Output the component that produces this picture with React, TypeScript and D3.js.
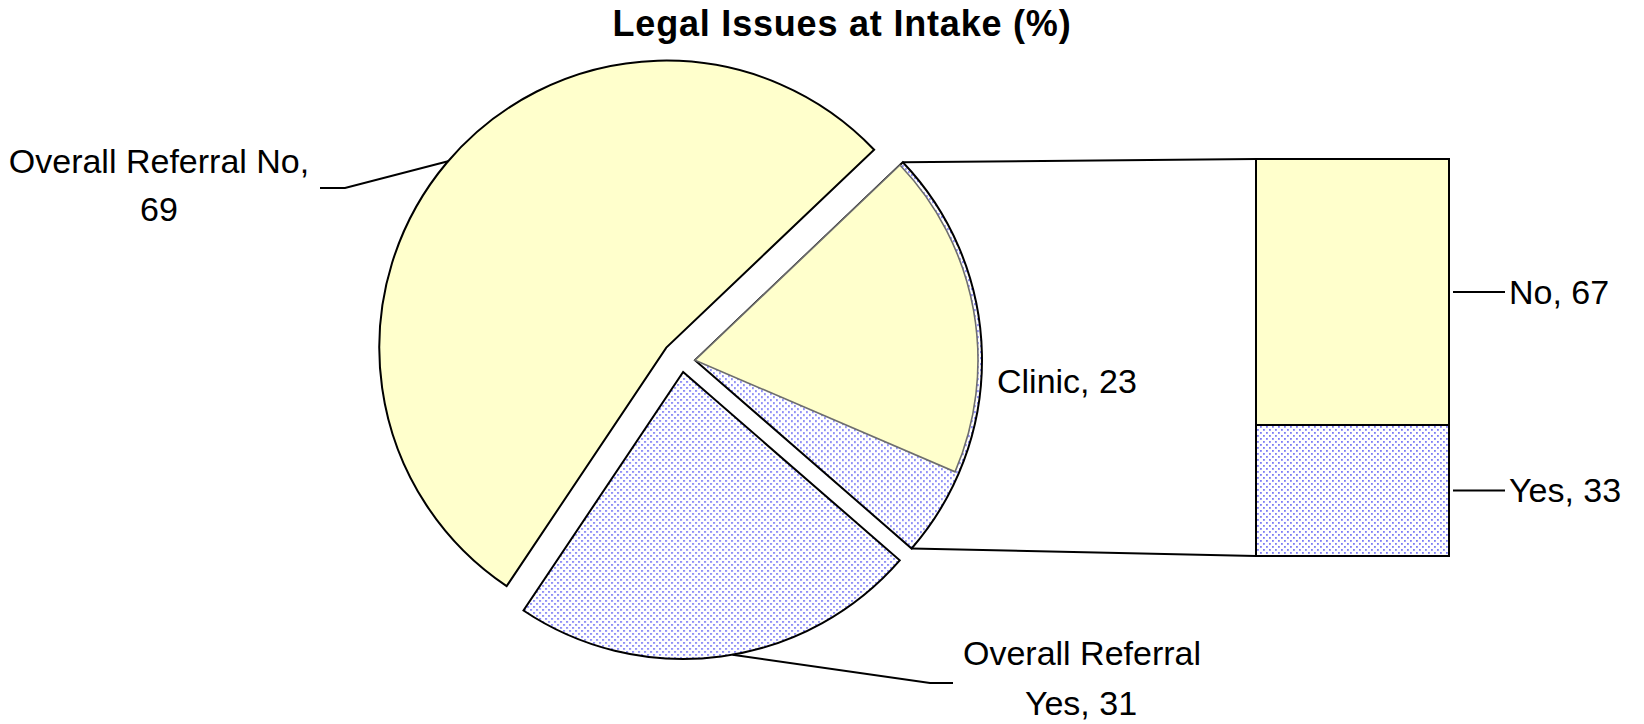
import React, { useEffect, useRef } from "react";
import * as d3 from "d3";

// ── Data ──────────────────────────────────────────────────────────────
const TITLE = "Legal Issues at Intake (%)";

// main pie, in drawing order (counter-clockwise from the clinic wedge)
const sliceNames  = ["Overall Referral No", "Overall Referral Yes", "Clinic"];
const sliceLabels = [["Overall Referral No,", "69"], ["Overall Referral", "Yes, 31"], ["Clinic, 23"]];
const sliceShares = [53.5, 23.0, 23.5];   // share of the circle as drawn

// clinic breakdown shown in the stacked bar
const barNames  = ["No", "Yes"];
const barValues = [67, 33];
const barLabels = ["No, 67", "Yes, 33"];

// part of the clinic wedge painted yellow / dotted
const clinicSplit = [79, 21];

// ── Styles ────────────────────────────────────────────────────────────
const YELLOW = "#ffffcc";
const DOT    = "#7c7cf5";
const FONT   = "'Liberation Sans', Arial, sans-serif";
const LABEL_SIZE = "34px";

const W = 1644, H = 724;

const App = () => {
    const svgRef = useRef(null);

    useEffect(() => {
        const svg = d3.select(svgRef.current);
        svg.selectAll("*").remove();

        // dotted fill
        const defs = svg.append("defs");
        const pat = defs.append("pattern")
            .attr("id", "dots")
            .attr("patternUnits", "userSpaceOnUse")
            .attr("width", 6).attr("height", 6);
        pat.append("rect").attr("width", 6).attr("height", 6).attr("fill", "#fff");
        pat.append("rect").attr("x", 0).attr("y", 0).attr("width", 1.8).attr("height", 1.8).attr("fill", DOT);
        pat.append("rect").attr("x", 3).attr("y", 3).attr("width", 1.8).attr("height", 1.8).attr("fill", DOT);

        const fills = [YELLOW, "url(#dots)", "url(#dots)"];

        // ── Title ─────────────────────────────────────────────────────
        svg.append("text")
            .attr("x", 842).attr("y", 36)
            .attr("text-anchor", "middle")
            .attr("font-family", FONT)
            .attr("font-weight", "bold")
            .attr("font-size", "36px")
            .attr("letter-spacing", "0.8px")
            .attr("fill", "#000")
            .text(TITLE);

        // ── Pie ───────────────────────────────────────────────────────
        const cx = 681.6, cy = 360.5, R = 287;
        const explode = [20, 11.6, 13.4];
        const clinicMid = (88.7 * Math.PI) / 180;   // wedge faces the bar
        const total = d3.sum(sliceShares);
        const clinicSpan = (sliceShares[2] / total) * 2 * Math.PI;
        const endA = clinicMid - clinicSpan / 2;

        const pie = d3.pie<number>().sort(null).value(d => d)
            .startAngle(endA + 2 * Math.PI)
            .endAngle(endA);
        const arcs = pie(sliceShares);
        const arc = d3.arc<any>().innerRadius(0).outerRadius(R);

        const polar = (ox: number, oy: number, a: number, r: number) =>
            [ox + r * Math.sin(a), oy - r * Math.cos(a)];

        const origins = arcs.map((d, i) => {
            const mid = (d.startAngle + d.endAngle) / 2;
            const [ox, oy] = polar(cx, cy, mid, explode[i]);
            return { ox, oy };
        });

        arcs.forEach((d, i) => {
            svg.append("path")
                .attr("transform", `translate(${origins[i].ox},${origins[i].oy})`)
                .attr("d", arc(d))
                .attr("fill", fills[i])
                .attr("stroke", "#000")
                .attr("stroke-width", 2)
                .attr("stroke-linejoin", "miter");
        });

        // yellow overlay inside the clinic wedge
        const clinic = arcs[2];
        const co = origins[2];
        const sub = d3.pie<number>().sort(null).value(d => d)
            .startAngle(clinic.endAngle)
            .endAngle(clinic.startAngle)(clinicSplit);
        svg.append("path")
            .attr("transform", `translate(${co.ox},${co.oy})`)
            .attr("d", d3.arc<any>().innerRadius(0).outerRadius(R - 4)(sub[0]))
            .attr("fill", YELLOW)
            .attr("stroke", "#6e6e6e")
            .attr("stroke-width", 1.6);

        // ── Stacked bar ───────────────────────────────────────────────
        const barX = 1256, barW = 193;
        const y = d3.scaleLinear().domain([0, d3.sum(barValues)]).range([556, 159]);
        const row: any = {};
        barNames.forEach((n, i) => { row[n] = barValues[i]; });
        const stacked = d3.stack().keys(["Yes", "No"])([row]);
        const barFill: any = { No: YELLOW, Yes: "url(#dots)" };

        stacked.forEach(s => {
            const [y0, y1] = s[0];
            svg.append("rect")
                .attr("x", barX).attr("y", y(y1))
                .attr("width", barW).attr("height", y(y0) - y(y1))
                .attr("fill", barFill[s.key])
                .attr("stroke", "#000")
                .attr("stroke-width", 2);

            const mid = (y(y0) + y(y1)) / 2;
            const idx = barNames.indexOf(s.key);
            svg.append("line")
                .attr("x1", barX + barW + 4).attr("x2", barX + barW + 56)
                .attr("y1", mid).attr("y2", mid)
                .attr("stroke", "#000").attr("stroke-width", 2);
            svg.append("text")
                .attr("x", barX + barW + 60).attr("y", mid + 12)
                .attr("font-family", FONT).attr("font-size", LABEL_SIZE)
                .attr("fill", "#000")
                .text(barLabels[idx]);
        });

        // connectors from the clinic wedge to the bar
        const [tx, ty] = polar(co.ox, co.oy, clinic.endAngle, R);
        const [bx, by] = polar(co.ox, co.oy, clinic.startAngle, R);
        [[tx, ty, y(d3.sum(barValues))], [bx, by, y(0)]].forEach(([px, py, yy]) => {
            svg.append("line")
                .attr("x1", px).attr("y1", py)
                .attr("x2", barX).attr("y2", yy)
                .attr("stroke", "#000").attr("stroke-width", 2);
        });

        // ── Pie labels ────────────────────────────────────────────────
        const lbl = (x: number, yy: number, t: string, anchor = "middle") =>
            svg.append("text")
                .attr("x", x).attr("y", yy)
                .attr("text-anchor", anchor)
                .attr("font-family", FONT).attr("font-size", LABEL_SIZE)
                .attr("fill", "#000")
                .text(t);

        // Overall Referral No
        const o0 = origins[0];
        const [n0x, n0y] = polar(o0.ox, o0.oy, (310.5 * Math.PI) / 180, R);
        svg.append("polyline")
            .attr("points", `${n0x},${n0y} 345,188 320,188`)
            .attr("fill", "none").attr("stroke", "#000").attr("stroke-width", 2);
        lbl(159, 173, sliceLabels[0][0]);
        lbl(159, 221, sliceLabels[0][1]);

        // Overall Referral Yes
        const o1 = origins[1];
        const [n1x, n1y] = polar(o1.ox, o1.oy, (170.1 * Math.PI) / 180, R);
        svg.append("polyline")
            .attr("points", `${n1x},${n1y} 930,683 953,683`)
            .attr("fill", "none").attr("stroke", "#000").attr("stroke-width", 2);
        lbl(1082, 665, sliceLabels[1][0]);
        lbl(1081, 715, sliceLabels[1][1]);

        // Clinic
        lbl(997, 393, sliceLabels[2][0], "start");
    }, []);

    return (
        <svg
            ref={svgRef}
            width={W}
            height={H}
            style={{ position: "absolute", left: 0, top: 0, background: "#fff" }}
            aria-label={sliceNames.join(", ")}
        />
    );
};

export default App;
